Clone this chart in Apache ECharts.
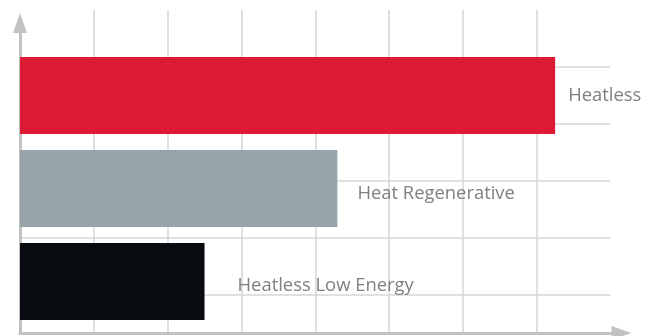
<!DOCTYPE html>
<html>
<head>
<meta charset="utf-8">
<script src="https://cdn.jsdelivr.net/npm/echarts@6/dist/echarts.min.js"></script>
<style>
  html, body { margin: 0; padding: 0; background: #fff; }
  #chart { width: 651px; height: 336px; }
</style>
</head>
<body>
<div id="chart"></div>
<script>
const categories = ['Heatless', 'Heat Regenerative', 'Heatless Low Energy'];
const values = [7.25, 4.3, 2.5];
const barColors = ['#dc1a33', '#97a3ab', '#080b10'];
// label nudges
const labelOffsets = [[13, 0.5], [20, 5.5], [33, 4]];

const chart = echarts.init(document.getElementById('chart'));

const gridColor = '#d6d6d6';
const axisColor = '#c2c2c2';

const option = {
  backgroundColor: '#ffffff',
  animation: false,
  grid: [
    // bars
    { left: 20, right: 40.5, top: 49, bottom: 8 },
    // grid lines
    { left: 20, right: 40.5, top: 10, bottom: 3 },
    // axis lines with arrows
    { left: 20, right: 29.5, top: 23, bottom: 3 }
  ],
  xAxis: [
    {
      gridIndex: 0, type: 'value', min: 0, max: 8, interval: 1,
      axisLine: { show: false }, axisTick: { show: false },
      axisLabel: { show: false }, splitLine: { show: false }
    },
    {
      gridIndex: 1, type: 'value', min: 0, max: 8, interval: 1,
      axisLine: { show: false }, axisTick: { show: false },
      axisLabel: { show: false },
      splitLine: {
        show: true, showMinLine: false, showMaxLine: false,
        lineStyle: { color: gridColor, width: 1.5 }
      }
    },
    {
      gridIndex: 2, type: 'value', min: 0, max: 1,
      axisLine: {
        show: true, symbol: ['none', 'triangle'], symbolSize: [14, 20],
        lineStyle: { color: axisColor, width: 3 }
      },
      axisTick: { show: false }, axisLabel: { show: false },
      splitLine: { show: false }
    }
  ],
  yAxis: [
    {
      gridIndex: 0, type: 'category', data: categories, inverse: true,
      axisLine: { show: false }, axisTick: { show: false },
      axisLabel: { show: false }, splitLine: { show: false }
    },
    {
      gridIndex: 1, type: 'value', inverse: true, min: 0, max: 5.68, interval: 1,
      axisLine: { show: false }, axisTick: { show: false },
      axisLabel: { show: false },
      splitLine: {
        show: true, showMinLine: false, showMaxLine: false,
        lineStyle: { color: gridColor, width: 1.5 }
      }
    },
    {
      gridIndex: 2, type: 'value', min: 0, max: 1,
      axisLine: {
        show: true, symbol: ['none', 'triangle'], symbolSize: [14, 20],
        lineStyle: { color: axisColor, width: 3 }
      },
      axisTick: { show: false }, axisLabel: { show: false },
      splitLine: { show: false }
    }
  ],
  series: [{
    type: 'bar',
    xAxisIndex: 0,
    yAxisIndex: 0,
    barWidth: 77,
    data: values.map((v, i) => ({
      value: v,
      itemStyle: { color: barColors[i] },
      label: { offset: labelOffsets[i] }
    })),
    label: {
      show: true,
      position: 'right',
      distance: 0,
      formatter: p => p.name,
      color: '#7f7f7f',
      fontFamily: 'Open Sans',
      fontSize: 18.4
    }
  }]
};

chart.setOption(option);
</script>
</body>
</html>
